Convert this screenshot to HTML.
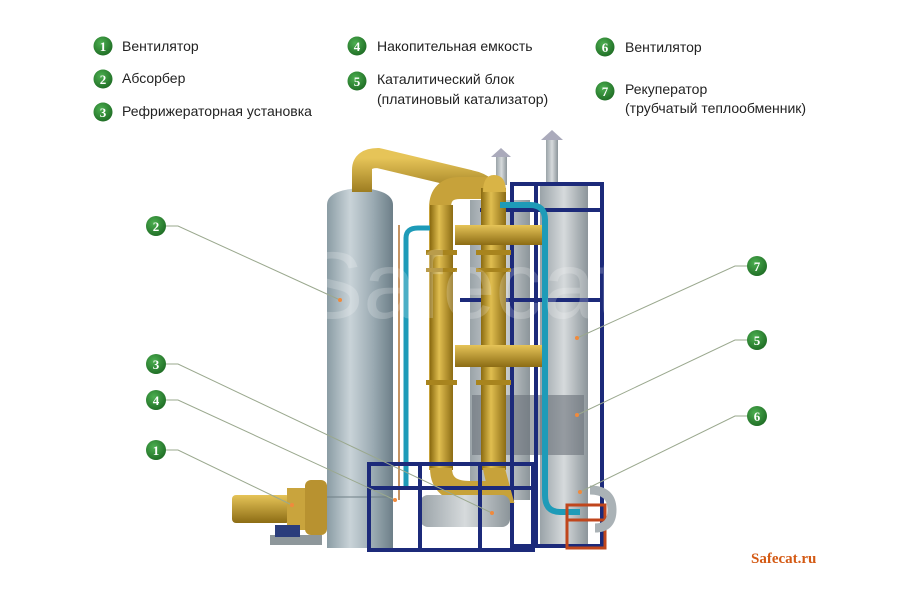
<!DOCTYPE html>
<html><head><meta charset="utf-8"><style>
html,body{margin:0;padding:0;background:#fff;}
svg{display:block}
.lg{font-family:"Liberation Sans","DejaVu Sans",sans-serif;font-size:14px;fill:#222;}
.n{font-family:"Liberation Serif",serif;font-weight:bold;font-size:13px;fill:#fff;text-anchor:middle;}
</style></head><body>
<svg width="900" height="600" viewBox="0 0 900 600" xmlns="http://www.w3.org/2000/svg">
<defs>
<linearGradient id="steel" x1="0" x2="1"><stop offset="0" stop-color="#8a9ca4"/><stop offset=".35" stop-color="#c9d3d8"/><stop offset=".7" stop-color="#9aaab2"/><stop offset="1" stop-color="#6d7f88"/></linearGradient>
<linearGradient id="gold" x1="0" x2="1"><stop offset="0" stop-color="#8a6a10"/><stop offset=".4" stop-color="#e0be50"/><stop offset="1" stop-color="#8c6c14"/></linearGradient>
<linearGradient id="goldh" x1="0" y1="0" x2="0" y2="1"><stop offset="0" stop-color="#e6c458"/><stop offset="1" stop-color="#8c6c14"/></linearGradient>
<linearGradient id="gray" x1="0" x2="1"><stop offset="0" stop-color="#9aa3a8"/><stop offset=".5" stop-color="#d6dadc"/><stop offset="1" stop-color="#8c959a"/></linearGradient>
<radialGradient id="gc" cx=".4" cy=".35" r=".7"><stop offset="0" stop-color="#4caf50"/><stop offset="1" stop-color="#1e6b24"/></radialGradient>
</defs>

<g>
<circle cx="103" cy="46" r="9.5" fill="url(#gc)"/><text class="n" x="103" y="51">1</text><text class="lg" x="122" y="51">Вентилятор</text>
<circle cx="103" cy="79" r="9.5" fill="url(#gc)"/><text class="n" x="103" y="84">2</text><text class="lg" x="122" y="83">Абсорбер</text>
<circle cx="103" cy="112" r="9.5" fill="url(#gc)"/><text class="n" x="103" y="117">3</text><text class="lg" x="122" y="116">Рефрижераторная установка</text>
<circle cx="357" cy="46" r="9.5" fill="url(#gc)"/><text class="n" x="357" y="51">4</text><text class="lg" x="377" y="51">Накопительная емкость</text>
<circle cx="357" cy="81" r="9.5" fill="url(#gc)"/><text class="n" x="357" y="86">5</text><text class="lg" x="377" y="84">Каталитический блок</text><text class="lg" x="377" y="104">(платиновый катализатор)</text>
<circle cx="605" cy="47" r="9.5" fill="url(#gc)"/><text class="n" x="605" y="52">6</text><text class="lg" x="625" y="52">Вентилятор</text>
<circle cx="605" cy="91" r="9.5" fill="url(#gc)"/><text class="n" x="605" y="96">7</text><text class="lg" x="625" y="94">Рекуператор</text><text class="lg" x="625" y="113">(трубчатый теплообменник)</text>
</g>

<rect x="546" y="138" width="12" height="46" fill="url(#gray)"/><path d="M541 140 L552 130 L563 140 Z" fill="#aab"/>
<rect x="496" y="155" width="11" height="30" fill="url(#gray)"/><path d="M491 157 L501 148 L511 157 Z" fill="#aab"/>

<rect x="470" y="200" width="60" height="300" fill="url(#gray)"/>
<rect x="540" y="185" width="48" height="360" fill="url(#gray)"/>
<rect x="472" y="395" width="112" height="60" fill="#6a717a" opacity=".6"/>
<g stroke="#1c2a7a" stroke-width="4" fill="none">
<rect x="512" y="184" width="90" height="362"/>
<line x1="536" y1="184" x2="536" y2="546"/>
<line x1="460" y1="300" x2="600" y2="300"/>
<line x1="480" y1="210" x2="600" y2="210"/>
</g>

<path d="M327 205 Q327 190 360 188 Q393 190 393 205 L393 548 L327 548 Z" fill="url(#steel)"/>
<line x1="327" y1="497" x2="393" y2="497" stroke="#6f7f86"/>
<line x1="399" y1="225" x2="399" y2="500" stroke="#b07030" stroke-width="1.5"/>

<path d="M362 192 L362 170 Q362 158 378 158 L470 180 Q490 184 493 200" stroke="url(#goldh)" stroke-width="20" fill="none"/>
<path d="M440 470 L440 208 Q440 188 460 188 L495 188" stroke="#c7a23a" stroke-width="22" fill="none"/>
<rect x="430" y="205" width="23" height="265" fill="url(#gold)"/>
<rect x="481" y="188" width="25" height="282" fill="url(#gold)"/>
<path d="M483 192 Q483 175 494 175 Q506 175 506 192 Z" fill="#d9b446"/>
<rect x="455" y="345" width="90" height="22" fill="url(#goldh)"/>
<rect x="455" y="225" width="90" height="20" fill="url(#goldh)"/>
<g fill="#a8841e"><rect x="426" y="250" width="31" height="5"/><rect x="476" y="250" width="35" height="5"/><rect x="426" y="380" width="31" height="5"/><rect x="476" y="380" width="35" height="5"/><rect x="426" y="268" width="31" height="4"/><rect x="476" y="268" width="35" height="4"/></g>
<path d="M441 468 Q441 492 470 492 L500 492 Q494 470 494 468" stroke="#c7a23a" stroke-width="22" fill="none"/>

<path d="M406 490 L406 238 Q406 228 418 228 L430 228" stroke="#1e9bb8" stroke-width="5" fill="none"/>
<path d="M500 205 L530 205 Q545 205 545 220 L545 495 Q545 512 560 512 L580 512" stroke="#1e9bb8" stroke-width="6" fill="none"/>

<rect x="420" y="495" width="90" height="32" rx="8" fill="url(#gray)"/>
<g stroke="#1c2a7a" stroke-width="4" fill="none">
<rect x="369" y="464" width="164" height="86"/>
<line x1="420" y1="464" x2="420" y2="550"/><line x1="480" y1="464" x2="480" y2="550"/>
<line x1="369" y1="488" x2="533" y2="488"/>
</g>

<g stroke="#c0461c" stroke-width="3" fill="none"><rect x="567" y="505" width="38" height="43"/><line x1="567" y1="520" x2="605" y2="520"/></g>
<path d="M590 490 Q612 490 612 510 Q612 528 595 528" stroke="#aab2b6" stroke-width="9" fill="none"/>

<rect x="270" y="535" width="52" height="10" fill="#8e979b"/>
<rect x="232" y="495" width="58" height="28" rx="4" fill="url(#goldh)"/>
<rect x="287" y="488" width="22" height="42" fill="#c9a43d"/>
<rect x="305" y="480" width="22" height="55" rx="6" fill="#b89230"/>
<rect x="275" y="525" width="25" height="12" fill="#2b3d7c"/>

<text x="300" y="318" font-family="Liberation Sans,sans-serif" font-size="95" fill="#fff" opacity=".2">Safecat</text>

<g stroke="#9aa88e" stroke-width="1" fill="none">
<polyline points="166,226 178,226 340,300"/>
<polyline points="166,364 178,364 492,513"/>
<polyline points="166,400 178,400 395,500"/>
<polyline points="166,450 178,450 292,505"/>
<polyline points="748,266 735,266 577,338"/>
<polyline points="748,340 735,340 577,415"/>
<polyline points="748,416 735,416 580,492"/>
</g>
<g fill="#f08a3c"><circle cx="340" cy="300" r="2"/><circle cx="492" cy="513" r="2"/><circle cx="395" cy="500" r="2"/><circle cx="292" cy="505" r="2"/><circle cx="577" cy="338" r="2"/><circle cx="577" cy="415" r="2"/><circle cx="580" cy="492" r="2"/></g>
<g>
<circle cx="156" cy="226" r="10" fill="url(#gc)"/><text class="n" x="156" y="231">2</text>
<circle cx="156" cy="364" r="10" fill="url(#gc)"/><text class="n" x="156" y="369">3</text>
<circle cx="156" cy="400" r="10" fill="url(#gc)"/><text class="n" x="156" y="405">4</text>
<circle cx="156" cy="450" r="10" fill="url(#gc)"/><text class="n" x="156" y="455">1</text>
<circle cx="757" cy="266" r="10" fill="url(#gc)"/><text class="n" x="757" y="271">7</text>
<circle cx="757" cy="340" r="10" fill="url(#gc)"/><text class="n" x="757" y="345">5</text>
<circle cx="757" cy="416" r="10" fill="url(#gc)"/><text class="n" x="757" y="421">6</text>
</g>

<text x="751" y="563" font-family="Liberation Serif,serif" font-weight="bold" font-size="15" fill="#d45a14">Safecat.ru</text>
</svg>
</body></html>
